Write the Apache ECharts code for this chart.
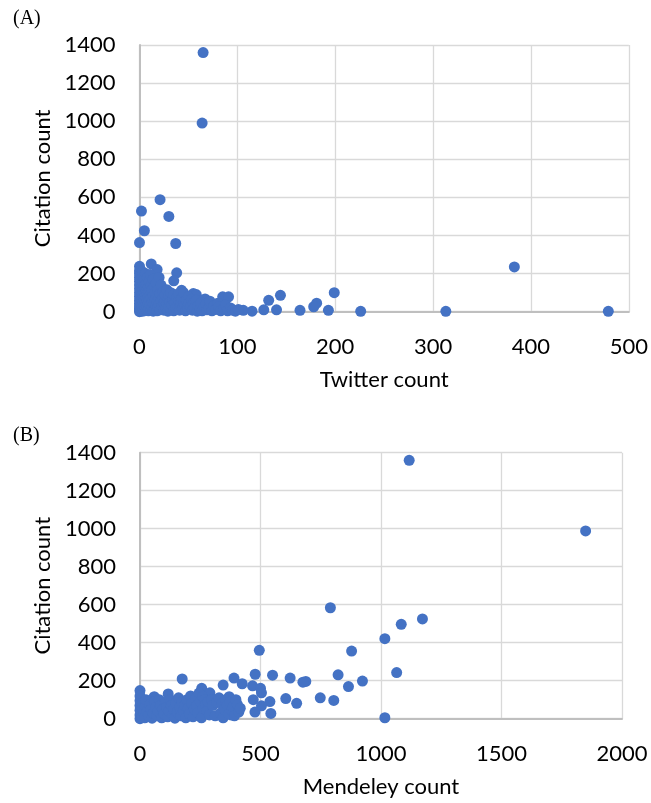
<!DOCTYPE html>
<html>
<head>
<meta charset="utf-8">
<script src="https://cdn.jsdelivr.net/npm/echarts@6/dist/echarts.min.js"></script>
<style>
html,body{margin:0;padding:0;background:#fff;}
#chart{width:651px;height:803px;}
</style>
</head>
<body>
<div id="chart"></div>
<script>
// Panel (A): [Twitter count, Citation count]
const twitterPoints = [
  [65,1360],[64,990],[21,588],[2,528],[30,500],[5,425],[0,363],[37,358],[0,238],[12,251],
  [18,221],[38,204],[35,162],[23,125],[43,112],[55,95],[58,90],[67,67],[85,78],[91,78],
  [383,235],[479,2],[313,2],[226,2],[199,100],[193,7],[181,45],[178,26],[164,7],[144,86],
  [140,10],[132,60],[127,10],[115,3],[106,7],
  [0,0],[0,8],[0,18],[0,30],[0,45],[0,60],[0,80],[0,100],[0,120],[0,140],[0,160],[0,180],[0,200],[0,215],
  [1,4],[1,25],[1,52],[1,88],[1,130],[1,170],[1,195],[2,12],[2,38],[2,70],[2,108],[2,150],
  [3,3],[3,28],[3,60],[3,95],[3,140],[3,185],[3,210],
  [4,15],[4,48],[4,80],[4,120],[4,160],[5,5],[5,35],[5,65],[5,100],[5,135],[5,175],
  [6,22],[6,55],[6,90],[6,125],[6,200],[7,8],[7,42],[7,75],[7,110],[7,150],[8,28],[8,60],[8,95],[8,180],
  [9,5],[9,45],[9,80],[9,130],[10,20],[10,60],[10,105],[10,160],[11,35],[11,90],[11,195],
  [12,8],[12,70],[12,140],[13,25],[13,50],[13,115],[14,85],[14,170],[14,3],
  [15,40],[15,130],[16,12],[16,65],[16,100],[17,30],[17,150],[18,50],[18,85],[18,5],[19,115],[19,25],
  [20,70],[20,180],[20,40],[21,10],[21,95],[22,55],[22,140],[23,30],[24,75],[24,105],[25,8],[25,45],
  [26,60],[26,90],[27,20],[28,115],[28,40],[29,3],[29,70],[30,25],[30,85],
  [31,50],[32,10],[32,100],[33,35],[34,65],[35,5],[35,90],[36,45],[37,20],[38,75],[39,30],[40,55],
  [40,95],[41,8],[42,40],[43,70],[44,18],[45,50],[45,100],
  [46,30],[47,5],[48,60],[49,15],[50,80],[50,40],[52,25],[53,65],[54,8],[55,45],[56,20],[58,60],[59,3],[60,30],
  [62,15],[63,48],[64,5],[66,28],[68,40],[69,10],[71,20],[72,55],[74,5],[76,30],[78,12],[80,45],
  [81,27],[83,5],[86,15],[88,35],[90,5],[93,20],[95,8],[98,3],[101,12]
];

// Panel (B): [Mendeley count, Citation count]
const mendeleyPoints = [
  [1117,1360],[1849,988],[790,584],[1172,525],[1084,497],[1016,421],[495,360],[878,356],[1065,243],
  [822,231],[550,229],[478,234],[623,214],[390,214],[175,209],[923,198],[688,196],[676,192],[424,184],
  [345,177],[467,173],[865,169],[500,160],[504,136],[256,160],[290,136],[370,116],[117,130],[59,116],
  [0,148],[748,110],[804,96],[605,106],[650,81],[539,90],[470,100],[504,68],[543,28],[477,35],[380,19],[1016,5],
  [0,0],[0,20],[0,45],[0,70],[0,95],[0,120],
  [8,10],[10,55],[12,85],[15,30],[20,5],[22,65],[25,100],[30,40],[35,15],[40,75],[45,50],[50,3],
  [55,30],[60,90],[65,60],[70,15],[75,40],[80,100],[85,70],[90,5],[95,50],[100,25],[105,85],[110,60],
  [115,10],[120,40],[125,100],[130,70],[135,20],[140,50],[145,3],[150,85],[155,35],[160,110],[165,60],
  [170,15],[175,90],[180,40],[185,70],[190,5],[195,100],[200,55],[205,25],[210,120],[215,80],[220,10],
  [225,50],[230,105],[235,70],[240,30],[245,135],[250,90],[255,5],[260,115],[262,55],[268,100],[272,75],
  [278,40],[282,90],[288,20],[298,100],[302,70],[312,15],[318,85],[328,110],[334,30],
  [340,80],[345,5],[350,50],[356,100],[362,70],[368,25],[374,90],[380,45],[386,60],[392,15],[398,100],
  [404,75],[410,35],[416,55]
];

const citationTicks = [0,200,400,600,800,1000,1200,1400];
const twitterTicks = [0,100,200,300,400,500];
const mendeleyTicks = [0,500,1000,1500,2000];

const FONT = 'Lato';
const labelStyle = {color:'#000', fontFamily:FONT, fontSize:22, formatter: v => String(v)};
const gridLine = {show:true, lineStyle:{color:'#d9d9d9', width:1.3}};
const axisLine = {show:true, lineStyle:{color:'#bfbfbf', width:2}};

function xAxisFor(idx, ticks, name){
  return {
    gridIndex: idx, type:'value', min: ticks[0], max: ticks[ticks.length-1],
    interval: ticks[1]-ticks[0],
    name: name, nameLocation:'middle', nameGap: 57,
    nameTextStyle:{color:'#000', fontFamily:FONT, fontSize:22},
    axisLine: axisLine, axisTick:{show:false}, splitLine: gridLine,
    axisLabel: Object.assign({margin:24}, labelStyle)
  };
}
function yAxisFor(idx, ticks){
  return {
    gridIndex: idx, type:'value', min: ticks[0], max: ticks[ticks.length-1],
    interval: ticks[1]-ticks[0],
    name:'Citation count', nameLocation:'middle', nameGap: 76,
    nameTextStyle:{color:'#000', fontFamily:FONT, fontSize:22},
    axisLine: axisLine, axisTick:{show:false}, splitLine: gridLine,
    axisLabel: Object.assign({margin:24}, labelStyle)
  };
}

const chart = echarts.init(document.getElementById('chart'), null, {renderer:'canvas'});
chart.setOption({
  animation:false,
  backgroundColor:'#fff',
  title:[
    {text:'(A)', left:13, top:9, padding:0, textStyle:{fontFamily:'Liberation Serif', fontSize:20, fontWeight:'normal', color:'#000'}},
    {text:'(B)', left:13, top:426, padding:0, textStyle:{fontFamily:'Liberation Serif', fontSize:20, fontWeight:'normal', color:'#000'}}
  ],
  grid:[
    {left:139.5, top:45, width:490, height:266.7},
    {left:140, top:452.7, width:482, height:266}
  ],
  xAxis:[ xAxisFor(0, twitterTicks, 'Twitter count'), xAxisFor(1, mendeleyTicks, 'Mendeley count') ],
  yAxis:[ yAxisFor(0, citationTicks), yAxisFor(1, citationTicks) ],
  series:[
    {type:'scatter', xAxisIndex:0, yAxisIndex:0, data: twitterPoints, symbolSize:11,
     itemStyle:{color:'#4472C4', opacity:1}},
    {type:'scatter', xAxisIndex:1, yAxisIndex:1, data: mendeleyPoints, symbolSize:11,
     itemStyle:{color:'#4472C4', opacity:1}}
  ]
});
</script>
</body>
</html>
